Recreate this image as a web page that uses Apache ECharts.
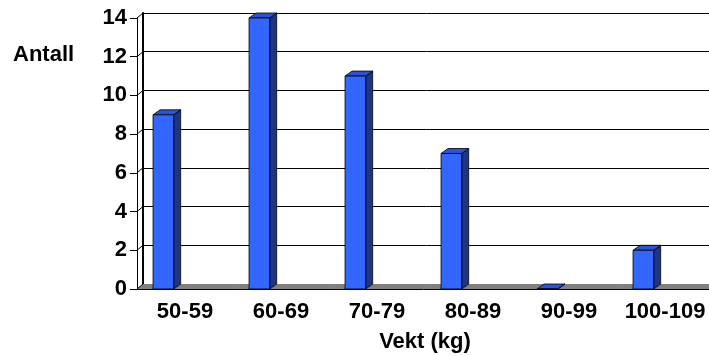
<!DOCTYPE html>
<html>
<head>
<meta charset="utf-8">
<script src="https://cdn.jsdelivr.net/npm/echarts@6/dist/echarts.min.js"></script>
<style>
  html, body { margin: 0; padding: 0; background: #fff; }
  #chart { width: 709px; height: 356px; }
</style>
</head>
<body>
<div id="chart"></div>
<script>
const categories = ["50-59", "60-69", "70-79", "80-89", "90-99", "100-109"];
const counts = [9, 14, 11, 7, 0, 2];
const yTicks = [0, 2, 4, 6, 8, 10, 12, 14];

// 3d depth offset of the back wall, in px
const DX = 6;
const DY = -5;
const FONT = "'Liberation Sans', Arial, sans-serif";
const labelStyle = { color: "#000", fontWeight: "bold", fontSize: 22, fontFamily: FONT };

const chart = echarts.init(document.getElementById("chart"), null, { renderer: "canvas" });

// floor strip under each category
function renderFloor(params, api) {
  const i = api.value(0);
  const p = api.coord([i, 0]);
  const w = api.size([1, 0])[0];
  const xl = p[0] - w / 2, xr = p[0] + w / 2, y = p[1];
  return {
    type: "polygon",
    shape: { points: [[xl, y], [xr + 1, y], [xr + 1 + DX, y + DY], [xl + DX, y + DY]] },
    style: { fill: "#808080" }
  };
}

// diagonal lines on the left side wall
function renderWall(params, api) {
  const v = api.value(0);
  const p = api.coord([0, v]);
  const w = api.size([1, 0])[0];
  const x0 = p[0] - w / 2;
  return {
    type: "line",
    shape: { x1: x0, y1: p[1], x2: x0 + DX, y2: p[1] + DY },
    style: { stroke: "#000", lineWidth: 1 }
  };
}

// bar with front, side and top faces
function renderBar(params, api) {
  const i = api.value(0);
  const top = api.coord([i, api.value(1)]);
  const base = api.coord([i, 0]);
  const w = api.size([1, 0])[0];
  const x0 = top[0] - w * 0.333;
  const x1 = x0 + w * 0.215;
  const yt = top[1], yb = base[1];
  const bx = 7, by = -5;
  const edge = { stroke: "#000", lineWidth: 0.8 };
  return {
    type: "group",
    children: [
      {
        type: "polygon",
        shape: { points: [[x1, yt], [x1 + bx, yt + by], [x1 + bx, yb + by], [x1, yb]] },
        style: Object.assign({ fill: "#1d3587" }, edge)
      },
      {
        type: "polygon",
        shape: { points: [[x0, yt], [x0 + bx, yt + by], [x1 + bx, yt + by], [x1, yt]] },
        style: Object.assign({ fill: "#2b52d8" }, edge)
      },
      {
        type: "rect",
        shape: { x: x0, y: yt, width: x1 - x0, height: yb - yt },
        style: Object.assign({ fill: "#3366ff" }, edge)
      }
    ]
  };
}

chart.setOption({
  animation: false,
  title: {
    text: "Antall",
    left: 8,
    top: 39,
    textStyle: labelStyle
  },
  grid: [
    { left: 137, top: 18, width: 576, height: 271, outerBoundsMode: "none", containLabel: false },
    { left: 137 + DX, top: 18 + DY, width: 576, height: 271, outerBoundsMode: "none", containLabel: false }
  ],
  xAxis: [
    {
      gridIndex: 0,
      type: "category",
      data: categories,
      z: 10,
      axisLine: { lineStyle: { color: "#000", width: 1 } },
      axisTick: { length: 5, lineStyle: { color: "#000" } },
      axisLabel: Object.assign({ margin: 12, interval: 0 }, labelStyle),
      name: "Vekt (kg)",
      nameLocation: "middle",
      nameGap: 42,
      nameTextStyle: labelStyle
    },
    { gridIndex: 1, type: "category", data: categories, show: false }
  ],
  yAxis: [
    {
      gridIndex: 0,
      type: "value",
      min: 0,
      max: 14,
      interval: 2,
      z: 10,
      axisLine: { show: true, lineStyle: { color: "#000", width: 1 } },
      axisTick: { show: true, length: 7, lineStyle: { color: "#000" } },
      axisLabel: Object.assign({ margin: 10 }, labelStyle),
      splitLine: { show: false }
    },
    {
      gridIndex: 1,
      type: "value",
      min: 0,
      max: 14,
      interval: 2,
      axisLine: { show: true, lineStyle: { color: "#000", width: 2 } },
      axisTick: { show: false },
      axisLabel: { show: false },
      splitLine: { show: true, lineStyle: { color: "#000", width: 1 } }
    }
  ],
  series: [
    {
      type: "custom",
      name: "floor",
      xAxisIndex: 0,
      yAxisIndex: 0,
      z: 1,
      renderItem: renderFloor,
      data: categories.map((c, i) => [i]),
      silent: true
    },
    {
      type: "custom",
      name: "wall",
      xAxisIndex: 0,
      yAxisIndex: 0,
      z: 1,
      renderItem: renderWall,
      data: yTicks.map(v => [v]),
      silent: true
    },
    {
      type: "custom",
      name: "Antall",
      xAxisIndex: 0,
      yAxisIndex: 0,
      z: 3,
      renderItem: renderBar,
      data: counts.map((v, i) => [i, v])
    }
  ]
});
</script>
</body>
</html>
